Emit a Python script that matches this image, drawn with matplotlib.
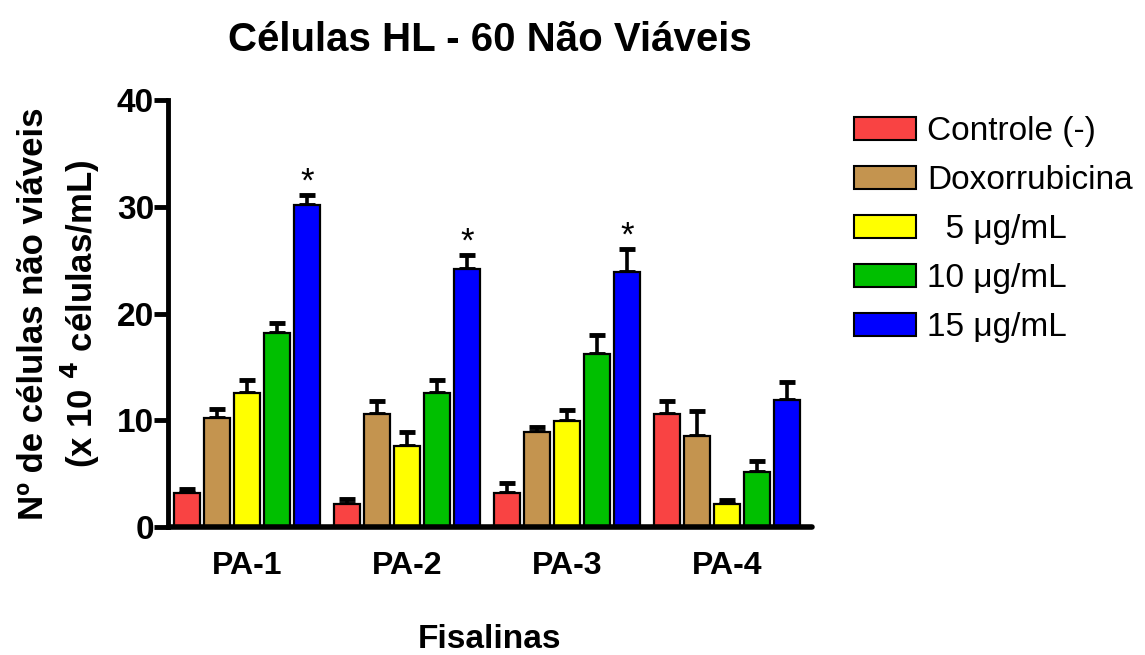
import numpy as np
import matplotlib
matplotlib.use('Agg')
import matplotlib.pyplot as plt
from matplotlib.patches import Rectangle

plt.rcParams['font.family'] = ['Liberation Sans', 'DejaVu Sans']

groups = ['PA-1', 'PA-2', 'PA-3', 'PA-4']
series = ['Controle (-)', 'Doxorrubicina', '  5 μg/mL', '10 μg/mL', '15 μg/mL']
colors = ['#F94343', '#C4944F', '#FFFF00', '#00BF00', '#0000FF']

controle = [3.2, 2.2, 3.2, 10.6]
doxo = [10.2, 10.6, 8.9, 8.5]
c5 = [12.6, 7.6, 9.9, 2.2]
c10 = [18.2, 12.6, 16.2, 5.2]
c15 = [30.2, 24.2, 23.9, 11.9]

err_controle = [0.4, 0.4, 0.9, 1.2]
err_doxo = [0.9, 1.2, 0.5, 2.4]
err_c5 = [1.2, 1.3, 1.1, 0.35]
err_c10 = [0.95, 1.2, 1.8, 0.95]
err_c15 = [0.9, 1.25, 2.1, 1.7]

signif = [True, True, True, False]

values = [controle, doxo, c5, c10, c15]
errors = [err_controle, err_doxo, err_c5, err_c10, err_c15]

fig = plt.figure(figsize=(11.45, 6.55), dpi=100)
ax = fig.add_axes([0.1467, 0.1954, 0.5624, 0.6519])

x = np.arange(len(groups))
step = 0.1875
width = 0.1625
for i, (vals, errs) in enumerate(zip(values, errors)):
    pos = x + (i - 2) * step
    ax.bar(pos, vals, width, color=colors[i], edgecolor='black', linewidth=1.6,
           label=series[i], zorder=2)
    ax.errorbar(pos, vals, yerr=[np.zeros(len(vals)), errs], fmt='none',
                ecolor='black', elinewidth=2.6, capsize=6, capthick=3.5, zorder=1)
    if i == 4:
        for p, v, e, s in zip(pos, vals, errs, signif):
            if s:
                ax.text(p, v + e - 0.3, '*', ha='center', va='bottom', fontsize=25)

ax.set_xlim(-0.497, 3.53)
ax.set_ylim(0, 40)
ax.set_yticks([0, 10, 20, 30, 40])
ax.set_xticks(x)
ax.set_xticklabels(groups, fontsize=23, fontweight='bold')
for lab in ax.get_yticklabels():
    lab.set_fontsize(24)
    lab.set_fontweight('bold')
ax.tick_params(axis='y', length=10, width=3.5, pad=0)
ax.tick_params(axis='x', length=0, pad=17)
ax.spines['top'].set_visible(False)
ax.spines['right'].set_visible(False)
ax.spines['left'].set_linewidth(3.5)
ax.spines['bottom'].set_linewidth(4)
ax.spines['bottom'].set_capstyle('round')

ax.set_title('Células HL - 60 Não Viáveis', fontsize=29, fontweight='bold', pad=35)
ax.set_xlabel('Fisalinas', fontsize=24, fontweight='bold', labelpad=31)
ax.set_ylabel('Nº de células não viáveis\n(x 10 $^{\\mathbf{4}}$ células/mL)',
              fontsize=25, fontweight='bold', labelpad=11, linespacing=1.25)

handles = [Rectangle((0, 0), 1, 1, facecolor=c, edgecolor='black', linewidth=1.5) for c in colors]
leg = fig.legend(handles, series, loc='upper left', bbox_to_anchor=(0.7345, 0.843),
                 frameon=False, fontsize=24, handlelength=1.86, handleheight=0.66,
                 handletextpad=0.33, labelspacing=0.54, borderaxespad=0)

fig.savefig('out.png', dpi=100)
